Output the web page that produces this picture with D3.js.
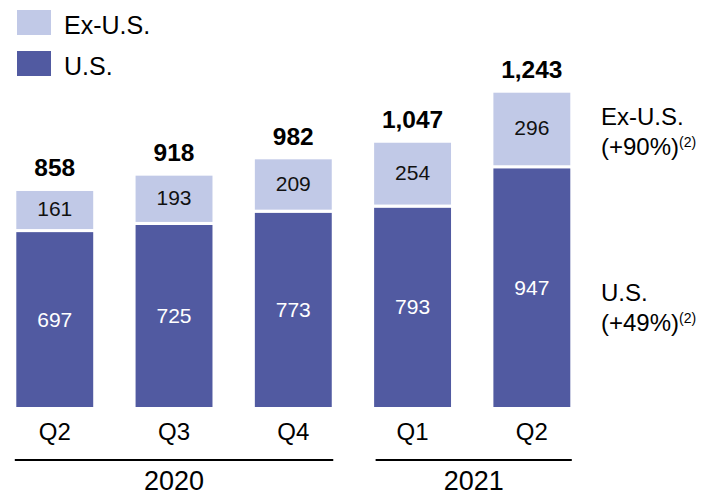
<!DOCTYPE html>
<html><head><meta charset="utf-8">
<script src="https://cdn.jsdelivr.net/npm/d3@7"></script>
<style>html,body{margin:0;padding:0;background:#fff;}svg{display:block;font-family:"Liberation Sans",Arial,sans-serif;}</style>
</head><body>
<svg id="c" width="703" height="497"></svg>
<script>
const quarters = ["Q2","Q3","Q4","Q1","Q2"];
const years = ["2020","2020","2020","2021","2021"];
const usValues = [697,725,773,793,947];
const exUsValues = [161,193,209,254,296];
const totals = [858,918,982,1047,1243];
const yearGroups = [{year:"2020", from:0, to:2},{year:"2021", from:3, to:4}];

const darkColor = "#515AA1", lightColor = "#C1C9E7";
const svg = d3.select("#c");
const ids = quarters.map((q,i)=>i);
const x = d3.scaleBand().domain(ids).range([14.8, 571.8]).paddingInner(0.33).paddingOuter(0);
const y = d3.scaleLinear().domain([0,1243]).range([408.5, 91.2]);
const fmt = d3.format(",");

const g = svg.append("g");
ids.forEach(i=>{
  const us = usValues[i], ex = exUsValues[i];
  g.append("rect").attr("x",x(i)).attr("width",x.bandwidth())
    .attr("y",y(us)).attr("height",y(0)-y(us))
    .attr("fill",darkColor).attr("stroke","#fff").attr("stroke-width",3);
  g.append("rect").attr("x",x(i)).attr("width",x.bandwidth())
    .attr("y",y(us+ex)).attr("height",y(us)-y(us+ex))
    .attr("fill",lightColor).attr("stroke","#fff").attr("stroke-width",3);
  const cx = x(i)+x.bandwidth()/2;
  g.append("text").attr("x",cx).attr("y",(y(0)+y(us))/2+7).attr("text-anchor","middle")
    .attr("font-size",21).attr("fill","#fff").text(us);
  g.append("text").attr("x",cx).attr("y",(y(us)+y(us+ex))/2+6).attr("text-anchor","middle")
    .attr("font-size",21).attr("fill","#111").text(ex);
  g.append("text").attr("x",cx).attr("y",y(totals[i])-13).attr("text-anchor","middle")
    .attr("font-size",24.5).attr("font-weight","bold").attr("fill","#000").text(fmt(totals[i]));
  g.append("text").attr("x",cx).attr("y",440).attr("text-anchor","middle")
    .attr("font-size",24).attr("fill","#000").text(quarters[i]);
});

yearGroups.forEach(gr=>{
  const x0 = x(gr.from)+ (gr.from===0?0:3), x1 = x(gr.to)+x.bandwidth();
  svg.append("line").attr("x1",x0).attr("x2",x1).attr("y1",460).attr("y2",460)
    .attr("stroke","#000").attr("stroke-width",2);
  svg.append("text").attr("x",(x0+x1)/2).attr("y",490).attr("text-anchor","middle")
    .attr("font-size",27).attr("fill","#000").text(gr.year);
});

// legend
const legend = [{label:"Ex-U.S.", color:lightColor, y:10},{label:"U.S.", color:darkColor, y:51}];
legend.forEach(l=>{
  svg.append("rect").attr("x",17).attr("y",l.y).attr("width",34).attr("height",25).attr("fill",l.color);
  svg.append("text").attr("x",64).attr("y",l.y+23.5).attr("font-size",25).attr("fill","#000").text(l.label);
});

// right annotations
const ann = [{name:"Ex-U.S.", pct:"(+90%)", y:125},{name:"U.S.", pct:"(+49%)", y:301}];
ann.forEach(a=>{
  svg.append("text").attr("x",601).attr("y",a.y).attr("font-size",24).attr("fill","#000").text(a.name);
  const t = svg.append("text").attr("x",601).attr("y",a.y+30).attr("font-size",24).attr("fill","#000");
  t.append("tspan").text(a.pct);
  t.append("tspan").attr("font-size",14).attr("dy",-8).text("(2)");
});
</script>
</body></html>
